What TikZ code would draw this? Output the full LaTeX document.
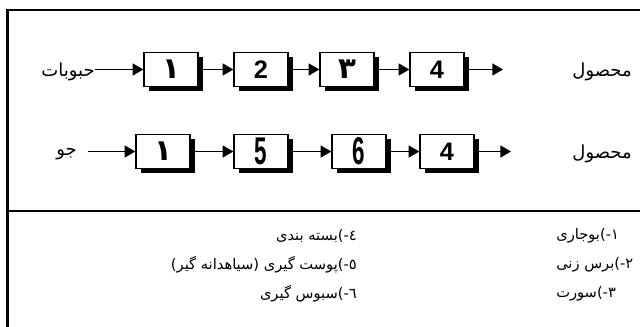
\documentclass[tikz,border=0pt]{standalone}
\usepackage{fontspec}
\usepackage{graphicx}
\usetikzlibrary{arrows.meta,shadows}
\newfontfamily\arabicfont[Script=Arabic]{DejaVu Sans}
\newfontfamily\digitfont{Liberation Sans}
\newcommand\narrowdigit[1]{\scalebox{0.58}[1]{\digitfont\bfseries\fontsize{29}{29}\selectfont #1}}
\begin{document}
\begin{tikzpicture}[x=0.75pt,y=-0.75pt,
  box/.style={draw, line width=1pt, fill=white, minimum width=40.5pt, minimum height=25.5pt, inner sep=0pt,
    drop shadow={shadow xshift=3.75pt, shadow yshift=-3.75pt, fill=black, opacity=1}},
  arr/.style={line width=1pt, -{Triangle[length=8pt,width=9pt]}},
  frameline/.style={line width=1.6pt},
  lbl/.style={font=\arabicfont\fontsize{13.5}{15}\selectfont, inner sep=0pt},
  lgd/.style={font=\arabicfont\fontsize{11}{14}\selectfont, inner sep=0pt},
  ardig/.style={font=\arabicfont\bfseries\fontsize{22}{22}\selectfont},
  latdig/.style={font=\digitfont\bfseries\fontsize{19}{19}\selectfont}]
\useasboundingbox (0,0) rectangle (640,327);
% frame
\draw[frameline] (640,10) -- (7.5,10) -- (7.5,327);
\draw[frameline] (7.5,211) -- (640,211);
% row 1
\node[box, ardig] (a1) at (171,69.5) {١};
\node[box, latdig] (a2) at (261,69.5) {2};
\node[box, ardig] (a3) at (347,69.5) {٣};
\node[box, latdig] (a4) at (437,69.5) {4};
\node[lbl, anchor=east] (in1) at (95,72) {حبوبات};
\node[lbl, anchor=east] (o1) at (632,72) {محصول};
\coordinate (e1) at (503,69.5);
\draw[arr] (a1.west -| in1.east) -- (a1.west);
\draw[arr] (a1.east) -- (a2.west);
\draw[arr] (a2.east) -- (a3.west);
\draw[arr] (a3.east) -- (a4.west);
\draw[arr] (a4.east) -- (e1);
% row 2
\node[box, ardig] (b1) at (163,151.5) {١};
\node[box] (b5) at (261,151.5) {\narrowdigit{5}};
\node[box] (b6) at (359,151.5) {\narrowdigit{6}};
\node[box, latdig] (b4) at (447,151.5) {4};
\node[lbl, anchor=east] (in2) at (77,154) {جو};
\coordinate (s2) at (88,151.5);
\node[lbl, anchor=east] (o2) at (632,154) {محصول};
\coordinate (e2) at (511,151.5);
\draw[arr] (s2) -- (b1.west);
\draw[arr] (b1.east) -- (b5.west);
\draw[arr] (b5.east) -- (b6.west);
\draw[arr] (b6.east) -- (b4.west);
\draw[arr] (b4.east) -- (e2);
% legend (pieces given in reverse: they are laid out right to left)
\node[lgd, anchor=west] (l1) at (556,236) {\hbox{بوجاری}\hbox{١-)}};
\node[lgd, anchor=west] (l2) at (556,265) {\hbox{زنی} \hbox{برس}\hbox{٢-)}};
\node[lgd, anchor=west] (l3) at (556,294) {\hbox{سورت}\hbox{٣-)}};
\node[lgd, anchor=east] (l4) at (357,236) {\hbox{بندی} \hbox{بسته}\hbox{٤-)}};
\node[lgd, anchor=east] (l5) at (357,265) {\hbox{گیر)} \hbox{(سیاهدانه} \hbox{گیری} \hbox{پوست}\hbox{٥-)}};
\node[lgd, anchor=east] (l6) at (357,294) {\hbox{گیری} \hbox{سبوس}\hbox{٦-)}};
\end{tikzpicture}
\end{document}
